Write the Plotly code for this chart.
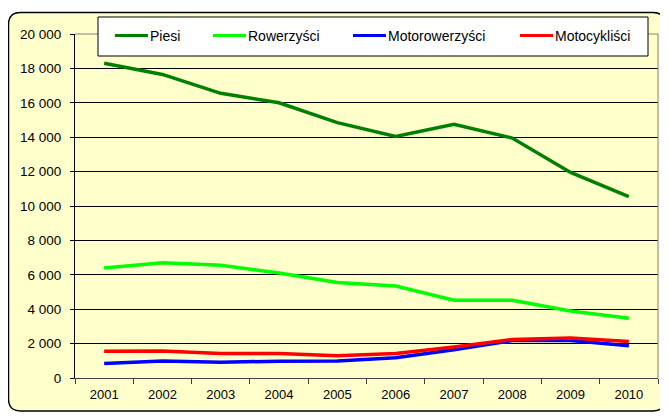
import plotly.graph_objects as go

years = ["2001", "2002", "2003", "2004", "2005", "2006", "2007", "2008", "2009", "2010"]
series_names = ["Piesi", "Rowerzyści", "Motorowerzyści", "Motocykliści"]
piesi = [18300, 17650, 16550, 16000, 14850, 14050, 14750, 13950, 11950, 10550]
rowerzysci = [6400, 6700, 6560, 6100, 5550, 5350, 4520, 4520, 3900, 3480]
motorowerzysci = [850, 990, 910, 980, 990, 1180, 1640, 2180, 2180, 1880]
motocyklisci = [1560, 1570, 1420, 1420, 1300, 1420, 1800, 2240, 2320, 2120]
colors = ["#008000", "#00FF00", "#0000FF", "#FF0000"]
y_ticks = [0, 2000, 4000, 6000, 8000, 10000, 12000, 14000, 16000, 18000, 20000]
y_tick_labels = ["0", "2 000", "4 000", "6 000", "8 000", "10 000", "12 000",
                 "14 000", "16 000", "18 000", "20 000"]

# page body has an 8px default margin, so the figure is placed at (8, 8)
OFF = 8
W, H = 668 - OFF, 417 - OFF
L, R, T, B = 75 - OFF, 658 - OFF, 34 - OFF, 378 - OFF


def px(x):
    return (x - OFF - L) / (R - L)


def py(y):
    return (B - (y - OFF)) / (B - T)


fig = go.Figure()
for name, vals, col in zip(series_names, [piesi, rowerzysci, motorowerzysci, motocyklisci], colors):
    fig.add_trace(go.Scatter(x=years, y=vals, name=name, mode="lines",
                             line=dict(color=col, width=3.5), showlegend=False))

shapes = []
# chart area rounded rectangle (reference pixel coords)
x0, y0, x1, y1, r = 8.5, 12.5, 665, 411, 12
path = (f"M {px(x0 + r)},{py(y0)} L {px(x1 - r)},{py(y0)} "
        f"Q {px(x1)},{py(y0)} {px(x1)},{py(y0 + r)} L {px(x1)},{py(y1 - r)} "
        f"Q {px(x1)},{py(y1)} {px(x1 - r)},{py(y1)} L {px(x0 + r)},{py(y1)} "
        f"Q {px(x0)},{py(y1)} {px(x0)},{py(y1 - r)} L {px(x0)},{py(y0 + r)} "
        f"Q {px(x0)},{py(y0)} {px(x0 + r)},{py(y0)} Z")
shapes.append(dict(type="path", xref="paper", yref="paper", path=path,
                   fillcolor="#FFFFCC", line=dict(color="#000000", width=1.5), layer="below"))
# plot-area top and right border (gray)
shapes.append(dict(type="line", xref="paper", yref="paper", x0=0, x1=1, y0=1, y1=1,
                   line=dict(color="#808080", width=1), layer="above"))
shapes.append(dict(type="line", xref="paper", yref="paper", x0=1, x1=1, y0=0, y1=1,
                   line=dict(color="#808080", width=1), layer="above"))
# legend box
shapes.append(dict(type="rect", xref="paper", yref="paper", x0=px(98), x1=px(648),
                   y0=py(56), y1=py(17), fillcolor="#FFFFFF",
                   line=dict(color="#000000", width=1), layer="above"))
annotations = []
line_starts = [115, 213, 353, 520]
ly = 35.5
for name, col, lx in zip(series_names, colors, line_starts):
    shapes.append(dict(type="line", xref="paper", yref="paper", x0=px(lx), x1=px(lx + 33),
                       y0=py(ly), y1=py(ly), line=dict(color=col, width=3), layer="above"))
    annotations.append(dict(xref="paper", yref="paper", x=px(lx + 33), y=py(ly),
                            text=name, showarrow=False, xanchor="left", yanchor="middle",
                            font=dict(family="Liberation Sans, Arial", size=14, color="#000000")))

fig.update_layout(
    width=W, height=H,
    margin=dict(l=L, r=W - R, t=T, b=H - B, pad=0),
    paper_bgcolor="#FFFFFF",
    plot_bgcolor="rgba(0,0,0,0)",
    font=dict(family="Liberation Sans, Arial", size=13, color="#000000"),
    shapes=shapes,
    annotations=annotations,
    xaxis=dict(type="category", showgrid=False, showline=True, linecolor="#404040",
               linewidth=1, ticks="outside", ticklen=5, tickcolor="#404040",
               tickson="boundaries", range=[-0.5, 9.5], zeroline=False,
               ticklabelstandoff=4, tickfont=dict(size=13)),
    yaxis=dict(range=[0, 20000], tickvals=y_ticks, ticktext=y_tick_labels,
               showgrid=True, gridcolor="#000000", gridwidth=1, showline=True,
               linecolor="#000000", linewidth=1, ticks="outside", ticklen=4,
               tickcolor="#000000", zeroline=False, ticklabelstandoff=6,
               tickfont=dict(size=13.5)),
)

fig.write_html("out.html")
